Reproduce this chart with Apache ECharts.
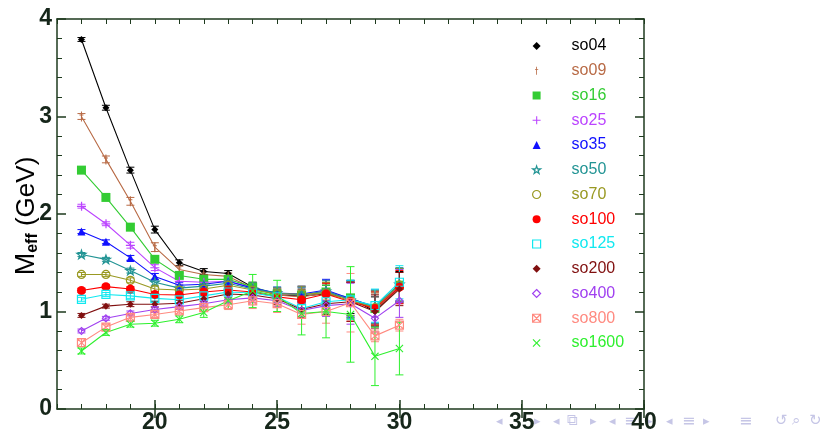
<!DOCTYPE html>
<html>
<head>
<meta charset="utf-8">
<script src="https://cdn.jsdelivr.net/npm/echarts@6/dist/echarts.min.js"></script>
<style>
  html, body { margin: 0; padding: 0; background: #ffffff; }
  #chart { width: 824px; height: 434px; }
</style>
</head>
<body>
<div id="chart"></div>
<script>
// Euclidean time slices t
const timeSlices = [17, 18, 19, 20, 21, 22, 23, 24, 25, 26, 27, 28, 29, 30];

// Effective mass per smearing level (GeV) and its statistical error
const so04    = [3.79, 3.09, 2.45, 1.84, 1.50, 1.41, 1.39, 1.25, 1.17, 1.16, 1.18, 1.14, 1.00, 1.25];
const so04Err = [0.02, 0.025, 0.03, 0.035, 0.03, 0.03, 0.03, 0.05, 0.06, 0.07, 0.09, 0.16, 0.15, 0.16];
const so09    = [3.00, 2.56, 2.13, 1.66, 1.43, 1.38, 1.36, 1.24, 1.17, 1.15, 1.19, 1.13, 1.02, 1.24];
const so09Err = [0.03, 0.035, 0.04, 0.045, 0.035, 0.03, 0.035, 0.05, 0.06, 0.07, 0.10, 0.17, 0.16, 0.16];
const so16    = [2.45, 2.17, 1.865, 1.535, 1.37, 1.33, 1.33, 1.25, 1.18, 1.17, 1.20, 1.14, 1.03, 1.27];
const so16Err = [0.02, 0.02, 0.02, 0.025, 0.025, 0.03, 0.035, 0.05, 0.06, 0.08, 0.10, 0.18, 0.17, 0.17];
const so25    = [2.08, 1.90, 1.68, 1.45, 1.31, 1.30, 1.31, 1.24, 1.18, 1.17, 1.21, 1.13, 1.04, 1.26];
const so25Err = [0.02, 0.02, 0.03, 0.03, 0.03, 0.03, 0.035, 0.05, 0.06, 0.08, 0.11, 0.18, 0.17, 0.17];
const so35    = [1.82, 1.715, 1.55, 1.36, 1.27, 1.28, 1.31, 1.24, 1.19, 1.18, 1.22, 1.13, 1.05, 1.27];
const so35Err = [0.02, 0.02, 0.025, 0.03, 0.03, 0.03, 0.04, 0.05, 0.06, 0.08, 0.11, 0.19, 0.17, 0.17];
const so50    = [1.585, 1.535, 1.42, 1.30, 1.24, 1.26, 1.29, 1.23, 1.19, 1.17, 1.21, 1.12, 1.05, 1.28];
const so50Err = [0.02, 0.02, 0.025, 0.03, 0.03, 0.03, 0.04, 0.05, 0.06, 0.08, 0.11, 0.19, 0.17, 0.17];
const so70    = [1.38, 1.38, 1.32, 1.23, 1.22, 1.23, 1.27, 1.22, 1.18, 1.18, 1.19, 1.11, 1.04, 1.27];
const so70Err = [0.02, 0.02, 0.025, 0.03, 0.03, 0.03, 0.04, 0.05, 0.06, 0.08, 0.11, 0.19, 0.17, 0.17];
const so100    = [1.215, 1.255, 1.23, 1.175, 1.17, 1.20, 1.22, 1.20, 1.15, 1.12, 1.18, 1.10, 1.03, 1.25];
const so100Err = [0.02, 0.02, 0.025, 0.03, 0.03, 0.03, 0.04, 0.05, 0.06, 0.08, 0.11, 0.20, 0.17, 0.17];
const so125    = [1.125, 1.175, 1.16, 1.135, 1.12, 1.16, 1.20, 1.19, 1.15, 1.03, 1.10, 1.12, 1.06, 1.30];
const so125Err = [0.02, 0.02, 0.025, 0.03, 0.03, 0.03, 0.04, 0.05, 0.06, 0.08, 0.11, 0.20, 0.17, 0.17];
const so200    = [0.96, 1.055, 1.075, 1.075, 1.085, 1.13, 1.18, 1.17, 1.13, 1.02, 1.08, 1.10, 1.00, 1.23];
const so200Err = [0.02, 0.02, 0.025, 0.03, 0.03, 0.03, 0.04, 0.05, 0.06, 0.08, 0.11, 0.20, 0.17, 0.17];
const so400    = [0.80, 0.93, 0.98, 1.02, 1.05, 1.08, 1.12, 1.14, 1.11, 1.01, 1.06, 1.08, 0.93, 1.11];
const so400Err = [0.02, 0.02, 0.025, 0.03, 0.03, 0.03, 0.04, 0.05, 0.06, 0.08, 0.11, 0.21, 0.14, 0.17];
const so800    = [0.68, 0.84, 0.94, 0.97, 1.005, 1.04, 1.07, 1.11, 1.08, 0.97, 1.00, 1.09, 0.75, 0.86];
const so800Err = [0.04, 0.03, 0.03, 0.03, 0.03, 0.04, 0.05, 0.08, 0.09, 0.10, 0.12, 0.30, 0.06, 0.06];
const so1600    = [0.595, 0.785, 0.87, 0.88, 0.92, 0.99, 1.11, 1.21, 1.16, 0.98, 1.00, 0.97, 0.54, 0.62];
const so1600Err = [0.03, 0.03, 0.03, 0.03, 0.035, 0.05, 0.08, 0.17, 0.16, 0.22, 0.27, 0.49, 0.30, 0.27];

// Axis tick labels
const xTickLabels = [20, 25, 30, 35, 40];
const yTickLabels = [0, 1, 2, 3, 4];

// Marker shapes drawn as paths
const P_DAGGER = 'path://M1.5,0h1v3h1.5v1h-1.5v6h-1v-6h-1.5v-1h1.5z';
const P_PLUS   = 'path://M4,0h1.2v4h3.8v1.2h-3.8v3.8h-1.2v-3.8h-4v-1.2h4z';
const P_STAR   = 'path://M5,0L6.2,3.6L10,3.6L6.9,5.9L8.1,9.5L5,7.3L1.9,9.5L3.1,5.9L0,3.6L3.8,3.6Z';
const P_BOXX   = 'path://M0,0H10V10H0Z M0,0L10,10 M10,0L0,10';
const P_CROSS  = 'path://M0,1L1,0L5,4L9,0L10,1L6,5L10,9L9,10L5,6L1,10L0,9L4,5Z';

const seriesDefs = [
  { name: 'so04',   values: so04,   errors: so04Err,   color: '#000000', symbol: 'diamond',  size: 7, open: false },
  { name: 'so09',   values: so09,   errors: so09Err,   color: '#b86a45', symbol: P_DAGGER,   size: 10, open: false },
  { name: 'so16',   values: so16,   errors: so16Err,   color: '#33cc33', symbol: 'rect',     size: 9, open: false },
  { name: 'so25',   values: so25,   errors: so25Err,   color: '#bb44ff', symbol: P_PLUS,     size: 9, open: false },
  { name: 'so35',   values: so35,   errors: so35Err,   color: '#1010ff', symbol: 'triangle', size: 8, open: false },
  { name: 'so50',   values: so50,   errors: so50Err,   color: '#229494', symbol: P_STAR,     size: 9, open: true },
  { name: 'so70',   values: so70,   errors: so70Err,   color: '#999922', symbol: 'circle',   size: 8, open: true },
  { name: 'so100',  values: so100,  errors: so100Err,  color: '#ff0000', symbol: 'circle',   size: 9, open: false },
  { name: 'so125',  values: so125,  errors: so125Err,  color: '#11e8f0', symbol: 'rect',     size: 8, open: true },
  { name: 'so200',  values: so200,  errors: so200Err,  color: '#800f0f', symbol: 'diamond',  size: 7, open: false },
  { name: 'so400',  values: so400,  errors: so400Err,  color: '#a040f0', symbol: 'diamond',  size: 7, open: true },
  { name: 'so800',  values: so800,  errors: so800Err,  color: '#ff8a80', symbol: P_BOXX,     size: 8, open: true },
  { name: 'so1600', values: so1600, errors: so1600Err, color: '#2ef02e', symbol: P_CROSS,    size: 8, open: false }
];

const FRAME = '#1e3a1e';
const LABEL = '#16261a';

function markerStyle(d) {
  return d.open
    ? { color: 'rgba(255,255,255,0)', borderColor: d.color, borderWidth: 1.2 }
    : { color: d.color, borderWidth: 0 };
}

// Vertical error bar with end caps
function errorBarRenderer(color) {
  return function (params, api) {
    const x = api.value(0), y = api.value(1), e = api.value(2);
    const hi = api.coord([x, y + e]);
    const lo = api.coord([x, y - e]);
    const cap = 4;
    const st = { stroke: color, lineWidth: 1 };
    return {
      type: 'group',
      children: [
        { type: 'line', shape: { x1: hi[0], y1: hi[1], x2: lo[0], y2: lo[1] }, style: st },
        { type: 'line', shape: { x1: hi[0] - cap, y1: hi[1], x2: hi[0] + cap, y2: hi[1] }, style: st },
        { type: 'line', shape: { x1: lo[0] - cap, y1: lo[1], x2: lo[0] + cap, y2: lo[1] }, style: st }
      ]
    };
  };
}

const series = [];
seriesDefs.forEach(function (d) {
  series.push({
    name: d.name + ' error',
    type: 'custom',
    xAxisIndex: 0,
    yAxisIndex: 0,
    renderItem: errorBarRenderer(d.color),
    data: timeSlices.map(function (t, i) { return [t, d.values[i], d.errors[i]]; }),
    silent: true,
    z: 2
  });
});
seriesDefs.forEach(function (d) {
  series.push({
    name: d.name,
    type: 'line',
    xAxisIndex: 0,
    yAxisIndex: 0,
    data: timeSlices.map(function (t, i) { return [t, d.values[i]]; }),
    symbol: d.symbol,
    symbolSize: d.size,
    symbolKeepAspect: true,
    showAllSymbol: true,
    itemStyle: markerStyle(d),
    lineStyle: { color: d.color, width: 1.1 },
    emphasis: { disabled: true },
    animation: false,
    z: 3
  });
});

const xMinor = {
  type: 'value', min: 16, max: 40, interval: 1,
  axisLine: { show: true, onZero: false, lineStyle: { color: FRAME, width: 1.5 } },
  axisTick: { show: true, inside: true, length: 5, lineStyle: { color: FRAME, width: 1 } },
  axisLabel: { show: false },
  splitLine: { show: false }
};

const option = {
  animation: false,
  backgroundColor: '#ffffff',
  grid: { left: 57, right: 180, top: 19, bottom: 24, containLabel: false },
  xAxis: [
    Object.assign({}, xMinor, { position: 'bottom' }),
    {
      type: 'value', min: 16, max: 40, position: 'bottom',
      axisLine: { show: false },
      axisTick: { show: true, inside: true, length: 9, customValues: xTickLabels,
                  lineStyle: { color: FRAME, width: 1.5 } },
      axisLabel: { show: true, customValues: xTickLabels, margin: 2, color: LABEL,
                   fontFamily: 'Liberation Sans', fontSize: 23, fontWeight: 'bold' },
      splitLine: { show: false }
    },
    Object.assign({}, xMinor, { position: 'top' }),
    {
      type: 'value', min: 16, max: 40, position: 'top',
      axisLine: { show: false },
      axisTick: { show: true, inside: true, length: 9, customValues: xTickLabels,
                  lineStyle: { color: FRAME, width: 1.5 } },
      axisLabel: { show: false },
      splitLine: { show: false }
    }
  ],
  yAxis: [
    {
      type: 'value', min: 0, max: 4, interval: 1, position: 'left',
      axisLine: { show: true, onZero: false, lineStyle: { color: FRAME, width: 1.5 } },
      axisTick: { show: true, inside: true, length: 9, lineStyle: { color: FRAME, width: 1.5 } },
      minorTick: { show: true, splitNumber: 5, length: 5, lineStyle: { color: FRAME, width: 1 } },
      axisLabel: { show: true, margin: 5, color: LABEL, fontFamily: 'Liberation Sans',
                   fontSize: 23, fontWeight: 'bold',
                   formatter: function (v) { return yTickLabels.indexOf(v) >= 0 ? String(v) : ''; } },
      splitLine: { show: false }
    },
    {
      type: 'value', min: 0, max: 4, interval: 1, position: 'right',
      axisLine: { show: true, onZero: false, lineStyle: { color: FRAME, width: 1.5 } },
      axisTick: { show: true, inside: true, length: 9, lineStyle: { color: FRAME, width: 1.5 } },
      minorTick: { show: true, splitNumber: 5, length: 5, lineStyle: { color: FRAME, width: 1 } },
      axisLabel: { show: false },
      splitLine: { show: false }
    }
  ],
  legend: {
    orient: 'vertical',
    left: 527,
    top: 33,
    itemWidth: 8,
    itemHeight: 8,
    itemGap: 8.75,
    selectedMode: false,
    symbolKeepAspect: true,
    textStyle: { fontFamily: 'Liberation Sans', fontSize: 16, lineHeight: 16, padding: [0, 0, 0, 26] },
    data: seriesDefs.map(function (d) {
      return {
        name: d.name,
        icon: d.symbol,
        itemStyle: markerStyle(d),
        textStyle: { color: d.color }
      };
    })
  },
  graphic: [
    {
      type: 'text',
      x: 27, y: 216,
      rotation: Math.PI / 2,
      style: {
        text: '{m|M}{s|eff}{g| (GeV)}',
        align: 'center',
        verticalAlign: 'middle',
        fill: '#000000',
        rich: {
          m: { fontFamily: 'Liberation Sans', fontSize: 27, lineHeight: 27, verticalAlign: 'top', fill: '#000' },
          s: { fontFamily: 'Liberation Sans', fontSize: 16, fontWeight: 'bold', lineHeight: 16,
               padding: [14, 0, 0, 0], verticalAlign: 'bottom', fill: '#000' },
          g: { fontFamily: 'Liberation Sans', fontSize: 26, lineHeight: 27, verticalAlign: 'top', fill: '#000' }
        }
      }
    },
    // slide navigation symbols
    {
      type: 'group',
      left: 496, top: 414,
      children: [
        { type: 'text', x: 0,   y: 0, style: { text: '◂', fill: '#c6c6e6', fontSize: 13, fontFamily: 'DejaVu Sans' } },
        { type: 'text', x: 38,  y: 0, style: { text: '▸', fill: '#c6c6e6', fontSize: 13, fontFamily: 'DejaVu Sans' } },
        { type: 'text', x: 57,  y: 0, style: { text: '◂', fill: '#c6c6e6', fontSize: 13, fontFamily: 'DejaVu Sans' } },
        { type: 'text', x: 71,  y: -1, style: { text: '⧉', fill: '#c6c6e6', fontSize: 15, fontFamily: 'DejaVu Sans' } },
        { type: 'text', x: 94,  y: 0, style: { text: '▸', fill: '#c6c6e6', fontSize: 13, fontFamily: 'DejaVu Sans' } },
        { type: 'text', x: 113, y: 0, style: { text: '◂', fill: '#c6c6e6', fontSize: 13, fontFamily: 'DejaVu Sans' } },
        { type: 'text', x: 128, y: -1, style: { text: '≡', fill: '#c6c6e6', fontSize: 16, fontFamily: 'DejaVu Sans' } },
        { type: 'text', x: 150, y: 0, style: { text: '▸', fill: '#c6c6e6', fontSize: 13, fontFamily: 'DejaVu Sans' } },
        { type: 'text', x: 170, y: 0, style: { text: '◂', fill: '#c6c6e6', fontSize: 13, fontFamily: 'DejaVu Sans' } },
        { type: 'text', x: 186, y: -1, style: { text: '≡', fill: '#c6c6e6', fontSize: 16, fontFamily: 'DejaVu Sans' } },
        { type: 'text', x: 207, y: 0, style: { text: '▸', fill: '#c6c6e6', fontSize: 13, fontFamily: 'DejaVu Sans' } },
        { type: 'text', x: 243, y: -1, style: { text: '≡', fill: '#c6c6e6', fontSize: 16, fontFamily: 'DejaVu Sans' } },
        { type: 'text', x: 279, y: -1, style: { text: '↺', fill: '#c6c6e6', fontSize: 15, fontFamily: 'DejaVu Sans' } },
        { type: 'text', x: 296, y: -1, style: { text: '⌕', fill: '#c6c6e6', fontSize: 15, fontFamily: 'DejaVu Sans' } },
        { type: 'text', x: 313, y: -1, style: { text: '↻', fill: '#c6c6e6', fontSize: 15, fontFamily: 'DejaVu Sans' } }
      ]
    }
  ],
  series: series
};

const chart = echarts.init(document.getElementById('chart'), null, { renderer: 'canvas' });
chart.setOption(option);
</script>
</body>
</html>
